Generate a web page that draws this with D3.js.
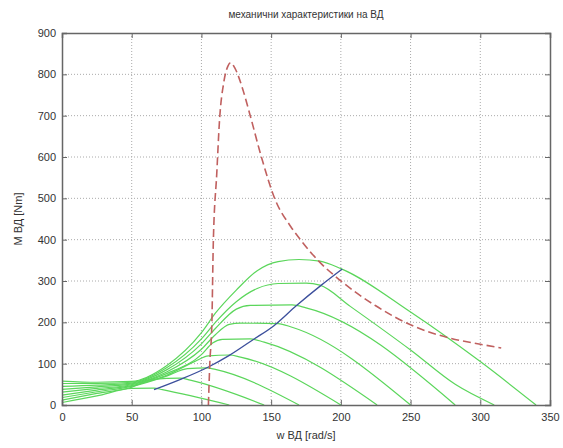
<!DOCTYPE html>
<html>
<head>
<meta charset="utf-8">
<script src="https://cdn.jsdelivr.net/npm/d3@7"></script>
<style>
  body { margin: 0; background: #fff; }
  text { font-family: "Liberation Sans", Arial, sans-serif; }
</style>
</head>
<body>
<svg id="chart" width="563" height="448"></svg>
<script>
var title = "механични характеристики на ВД";
var xLabel = "w ВД [rad/s]";
var yLabel = "M ВД [Nm]";
var xTicks = [0, 50, 100, 150, 200, 250, 300, 350];
var yTicks = [0, 100, 200, 300, 400, 500, 600, 700, 800, 900];

// green family, one array of [w, M] per curve
var curve1 = [[0,58],[25,55],[50,57],[75,95],[100,175],[110,222],[125,278],[140,325],[155,347],[170,352],[185,348],[200,330],[250,225],[300,105],[340,0]];
var curve2 = [[0,52],[25,52],[50,55],[75,90],[100,160],[110,200],[125,250],[140,282],[155,294],[175,295],[185,290],[207,238],[250,133],[282,50],[310,0]];
var curve3 = [[0,45],[25,48],[50,53],[75,85],[100,148],[110,185],[125,232],[135,241],[165,242],[175,235],[282,0]];
var curve4 = [[0,38],[25,44],[50,51],[75,80],[100,135],[110,170],[120,195],[128,198],[155,197],[165,188],[250,0]];
var curve5 = [[0,31],[25,40],[50,49],[75,76],[100,122],[108,150],[115,159],[135,160],[145,152],[226,0]];
var curve6 = [[0,24],[25,36],[50,47],[75,72],[95,105],[105,119],[120,121],[128,116],[200,0]];
var curve7 = [[0,18],[25,32],[50,45],[75,70],[90,88],[104,90],[110,86],[170,0]];
var curve8 = [[0,12],[25,28],[50,43],[65,62],[85,65],[92,60],[145,0]];
var curve9 = [[0,6],[25,22],[50,40],[66,41],[72,37],[120,0]];
var greenCurves = [curve1, curve2, curve3, curve4, curve5, curve6, curve7, curve8, curve9];

var blueLine = [[66,37],[85,62],[105,92],[120,120],[137,158],[152,192],[168,240],[186,290],[201,329]];
var redDashed = [[105,0],[106,100],[107.5,200],[108.5,390],[111,560],[113,690],[116,780],[119,820],[121,828],[124,815],[130,760],[135,700],[143,600],[153,496],[164,432],[171,400],[185,345],[199,303],[225,240],[250,194],[278,162],[300,147],[315,138]];

var margin = {left: 62, top: 33, right: 13, bottom: 43};
var svg = d3.select("#chart");
var W = 563 - margin.left - margin.right;
var H = 448 - margin.top - margin.bottom;

var x = d3.scaleLinear().domain([0, 350]).range([0, W]);
var y = d3.scaleLinear().domain([0, 900]).range([H, 0]);

var g = svg.append("g").attr("transform", "translate(" + margin.left + "," + margin.top + ")");

// dotted grid
g.selectAll(".gx").data(xTicks.slice(1, -1)).enter().append("line")
  .attr("x1", function(d) { return x(d); }).attr("x2", function(d) { return x(d); })
  .attr("y1", 0).attr("y2", H)
  .style("stroke", "#aaa").style("stroke-dasharray", "1,2").style("stroke-width", 1);
g.selectAll(".gy").data(yTicks.slice(1, -1)).enter().append("line")
  .attr("x1", 0).attr("x2", W)
  .attr("y1", function(d) { return y(d); }).attr("y2", function(d) { return y(d); })
  .style("stroke", "#aaa").style("stroke-dasharray", "1,2").style("stroke-width", 1);

var line = d3.line()
  .x(function(d) { return x(d[0]); })
  .y(function(d) { return y(d[1]); })
  .curve(d3.curveMonotoneX);

g.selectAll(".green").data(greenCurves).enter().append("path")
  .attr("d", line)
  .style("fill", "none").style("stroke", "#5bd65b").style("stroke-width", 1.2);

g.append("path").datum(blueLine).attr("d", line)
  .style("fill", "none").style("stroke", "#3c4f9c").style("stroke-width", 1.3);

g.append("path").datum(redDashed).attr("d", line)
  .style("fill", "none").style("stroke", "#c0605f").style("stroke-width", 1.6)
  .style("stroke-dasharray", "8,4");

// axes with ticks pointing inward, mirrored on top/right
var xAxis = d3.axisBottom(x).tickValues(xTicks).tickSize(-5).tickPadding(8);
var yAxis = d3.axisLeft(y).tickValues(yTicks).tickSize(-5).tickPadding(6);

g.append("g").attr("transform", "translate(0," + H + ")").call(xAxis);
g.append("g").call(yAxis);
g.append("g").call(d3.axisTop(x).tickValues(xTicks).tickSize(-5).tickFormat(""));
g.append("g").attr("transform", "translate(" + W + ",0)")
  .call(d3.axisRight(y).tickValues(yTicks).tickSize(-5).tickFormat(""));

g.selectAll(".domain").style("stroke", "#666").style("stroke-width", 1.5);
g.selectAll(".tick line").style("stroke", "#666");
g.selectAll(".tick text").style("font-size", "11px").style("fill", "#333");

svg.append("text").attr("x", margin.left + W / 2).attr("y", 18)
  .attr("text-anchor", "middle").style("font-size", "10px").style("fill", "#333")
  .text(title);
svg.append("text").attr("x", margin.left + W / 2).attr("y", 439)
  .attr("text-anchor", "middle").style("font-size", "11px").style("fill", "#333")
  .text(xLabel);
svg.append("text").attr("transform", "translate(22," + (margin.top + H / 2) + ") rotate(-90)")
  .attr("text-anchor", "middle").style("font-size", "11px").style("fill", "#333")
  .text(yLabel);
</script>
</body>
</html>
